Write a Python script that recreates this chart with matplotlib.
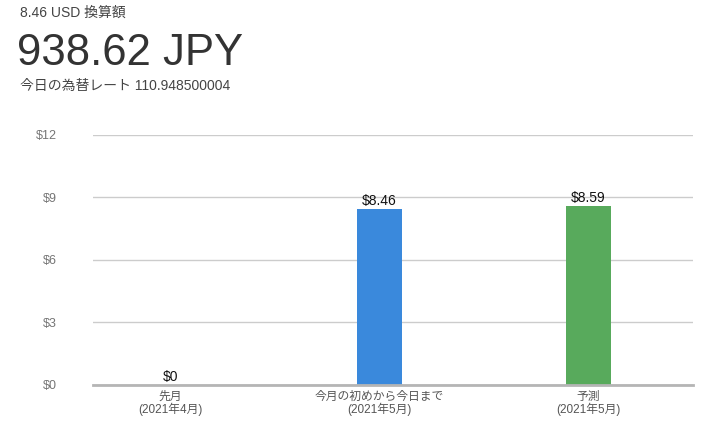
"""Recreate the USD→JPY conversion bar chart."""

import matplotlib
matplotlib.use("Agg")
import matplotlib.pyplot as plt

plt.rcParams["font.family"] = ["Liberation Sans", "Noto Sans CJK JP", "DejaVu Sans"]

categories = ["先月\n(2021年4月)", "今月の初めから今日まで\n(2021年5月)", "予測\n(2021年5月)"]
values = [0.0, 8.46, 8.59]
value_labels = ["$0", "$8.46", "$8.59"]
bar_colors = ["#3a89dc", "#3a89dc", "#58aa5c"]
yticks = [0, 3, 6, 9, 12]
ytick_labels = ["$0", "$3", "$6", "$9", "$12"]

header_small = "8.46 USD 換算額"
header_big = "938.62 JPY"
header_rate = "今日の為替レート 110.948500004"


def main() -> None:
    fig = plt.figure(figsize=(7.19, 4.42), dpi=100)
    ax = fig.add_axes([0.129, 0.129, 0.835, 0.5656])

    x = list(range(len(categories)))
    ax.bar(x, values, width=0.215, color=bar_colors, zorder=3)
    for xi, v, lab in zip(x, values, value_labels):
        ax.text(xi, v + 0.05, lab, ha="center", va="bottom", fontsize=10, color="#111111", zorder=4)

    ax.set_xlim(-0.37, 2.50)
    ax.set_ylim(0, 12)
    ax.set_yticks(yticks)
    ax.set_yticklabels(ytick_labels)
    ax.set_xticks(x)
    ax.set_xticklabels(categories, linespacing=1.05)
    ax.tick_params(axis="y", length=0, pad=26, labelsize=9, labelcolor="#757575")
    ax.tick_params(axis="x", length=0, pad=4, labelsize=8.5, labelcolor="#555555")

    ax.grid(axis="y", color="#cccccc", linewidth=1, zorder=0)
    for side in ["left", "right", "top"]:
        ax.spines[side].set_visible(False)
    ax.spines["bottom"].set_color("#b5b5b5")
    ax.spines["bottom"].set_linewidth(2)
    ax.spines["bottom"].set_zorder(5)

    fig.text(0.028, 0.972, header_small, fontsize=10, color="#444444", va="center")
    fig.text(0.024, 0.880, header_big, fontsize=31.5, color="#333333", va="center")
    fig.text(0.028, 0.805, header_rate, fontsize=10, color="#444444", va="center")

    fig.savefig("out.png", dpi=100)


if __name__ == "__main__":
    main()
